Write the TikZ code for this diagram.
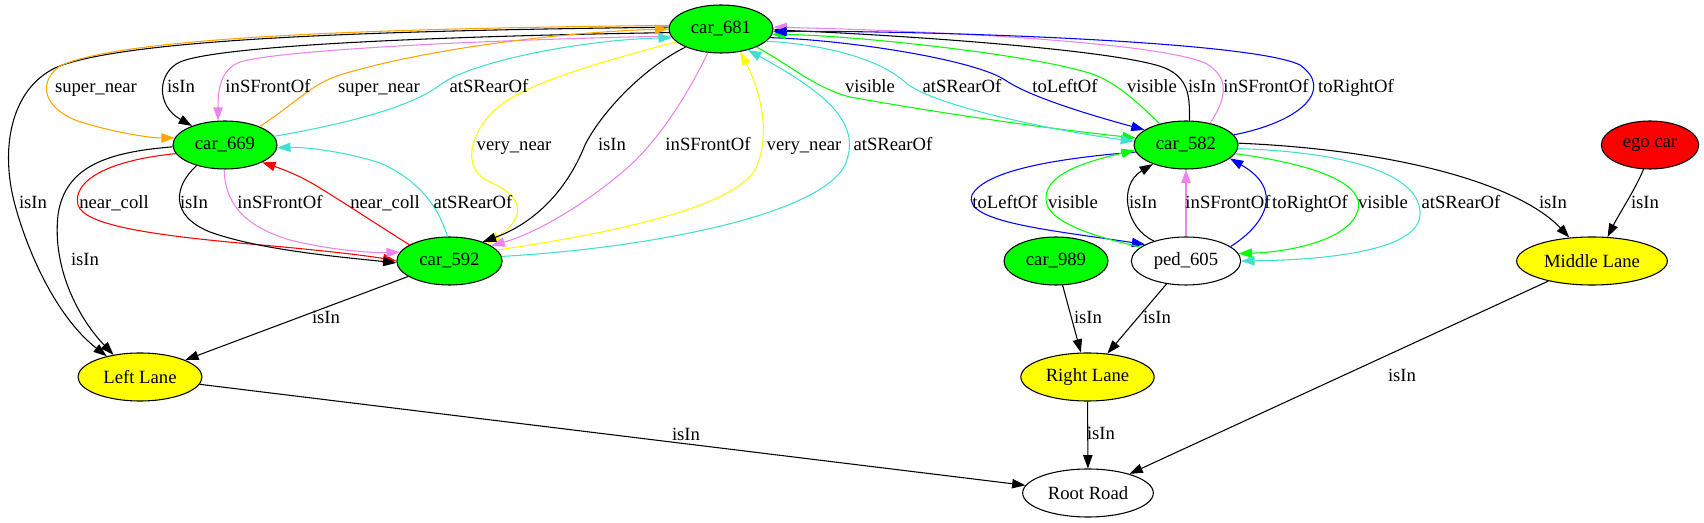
\documentclass[tikz,border=0pt]{standalone}
\usepackage{fontspec}
\setmainfont{Liberation Serif}
\usepackage{tikz}
\usetikzlibrary{arrows.meta, shapes.geometric}
\definecolor{carfill}{HTML}{00FF00}
\definecolor{lanefill}{HTML}{FFFF00}
\definecolor{egofill}{HTML}{FF0000}
\definecolor{orng}{HTML}{FFA500}
\definecolor{viol}{HTML}{EE82EE}
\definecolor{turq}{HTML}{40E0D0}
\definecolor{grn}{HTML}{00FF00}
\definecolor{blu}{HTML}{0000FF}
\definecolor{rd}{HTML}{FF0000}
\definecolor{ylw}{HTML}{FFFF00}

\begin{document}
\begin{tikzpicture}[x=0.75pt, y=-0.75pt,
    obj/.style={ellipse, draw, line width=0.8pt, minimum height=36pt, inner sep=0pt, font=\fontsize{14}{16}\selectfont},
    rel/.style={-{Triangle[length=10pt,width=7pt]}, line width=0.8pt},
    lbl/.style={font=\fontsize{14}{16}\selectfont, inner sep=0pt, anchor=base}]
    \useasboundingbox (0,0) rectangle (1704,523);
    % objects
    \node[obj, fill=carfill, minimum width=78pt] (c681) at (721,29) {car\_681};
    \node[obj, fill=carfill, minimum width=78pt] (c669) at (225,145) {car\_669};
    \node[obj, fill=carfill, minimum width=79pt] (c592) at (449.5,261) {car\_592};
    \node[obj, fill=lanefill, minimum width=93pt] (left) at (140,377) {Left Lane};
    \node[obj, fill=carfill, minimum width=78pt] (c582) at (1186,145) {car\_582};
    \node[obj, minimum width=82pt] (ped) at (1186,261) {ped\_605};
    \node[obj, fill=carfill, minimum width=78pt] (c989) at (1056,261) {car\_989};
    \node[obj, fill=lanefill, minimum width=100pt] (right) at (1087.5,377) {Right Lane};
    \node[obj, minimum width=98pt] (root) at (1088,493) {Root Road};
    \node[obj, fill=lanefill, minimum width=113pt] (mid) at (1592,261) {Middle Lane};
    \node[obj, fill=egofill, minimum width=73pt] (ego) at (1650,145) {ego car};

    % car_681 <-> car_669 and Left Lane
    \draw[rel] (c681.178) .. controls (450,30) and (130,35) .. (55,68) .. controls (10,90) and (0,150) .. (15,205) .. controls (30,260) and (60,320) .. (left.148);
    \draw[rel, orng] (c681.176) .. controls (450,28) and (130,33) .. (60,66) .. controls (40,80) and (40,105) .. (75,120) .. controls (110,132) and (150,138) .. (c669.172);
    \draw[rel] (c681.184) .. controls (450,36) and (220,45) .. (180,62) .. controls (158,72) and (155,105) .. (c669.150);
    \draw[rel, viol] (c681.188) .. controls (480,40) and (280,50) .. (240,62) .. controls (220,70) and (218,90) .. (c669.106);
    \draw[rel, orng] (c669.28) .. controls (300,100) and (310,85) .. (340,75) .. controls (420,50) and (560,32) .. (c681.180);
    \draw[rel, turq] (c669.10) .. controls (340,125) and (410,108) .. (440,85) .. controls (470,62) and (580,40) .. (c681.190);

    % car_681 <-> car_592
    \draw[rel, ylw] (c681.196) .. controls (600,62) and (520,85) .. (495,110) .. controls (468,135) and (462,170) .. (490,182) .. controls (520,195) and (530,215) .. (c592.25);
    \draw[rel] (c681.207) .. controls (640,70) and (600,115) .. (585,145) .. controls (565,195) and (530,225) .. (c592.30);
    \draw[rel, viol] (c681.241) .. controls (690,90) and (660,140) .. (625,170) .. controls (590,200) and (540,232) .. (c592.20);
    \draw[rel, ylw] (c592.13) .. controls (600,235) and (730,210) .. (755,170) .. controls (772,135) and (760,90) .. (c681.310);
    \draw[rel, turq] (c592.5) .. controls (650,248) and (820,215) .. (845,165) .. controls (862,125) and (830,95) .. (c681.322);

    % car_669 <-> car_592
    \draw[rel] (c669.182) .. controls (110,152) and (65,165) .. (58,215) .. controls (52,270) and (80,320) .. (left.140);
    \draw[rel, rd] (c669.190) .. controls (110,160) and (72,180) .. (78,205) .. controls (84,225) and (150,235) .. (250,244) .. controls (320,250) and (370,256) .. (c592.180);
    \draw[rel] (c669.216) .. controls (175,185) and (168,215) .. (210,232) .. controls (260,250) and (340,257) .. (c592.182);
    \draw[rel, viol] (c669.268) .. controls (225,200) and (240,225) .. (290,240) .. controls (330,250) and (370,253) .. (c592.170);
    \draw[rel, rd] (c592.158) .. controls (370,220) and (340,200) .. (315,185) .. controls (300,176) and (285,170) .. (c669.335);
    \draw[rel, turq] (c592.95) .. controls (440,210) and (420,180) .. (380,163) .. controls (340,150) and (300,147) .. (c669.357);
    \draw[rel] (c592) -- (left);
    \draw[rel] (left) -- (root);

    % car_681 <-> car_582
    \draw[rel, grn] (c681.333) .. controls (790,65) and (815,88) .. (850,97) .. controls (950,115) and (1060,130) .. (c582.172);
    \draw[rel, turq] (c681.345) .. controls (830,45) and (880,60) .. (905,82) .. controls (930,105) and (1050,130) .. (c582.176);
    \draw[rel, blu] (c681.350) .. controls (850,40) and (975,60) .. (1005,80) .. controls (1030,97) and (1090,115) .. (c582.160);
    \draw[rel, grn] (c582.141) .. controls (1140,105) and (1120,85) .. (1095,75) .. controls (1040,55) and (850,35) .. (c681.354);
    \draw[rel] (c582.82) .. controls (1190,95) and (1188,78) .. (1165,68) .. controls (1120,50) and (900,35) .. (c681.359);
    \draw[rel, viol] (c582.42) .. controls (1225,100) and (1232,78) .. (1205,63) .. controls (1150,40) and (900,30) .. (c681.2);
    \draw[rel, blu] (c582.12) .. controls (1300,122) and (1335,90) .. (1300,65) .. controls (1250,40) and (900,30) .. (c681.357);

    % car_582 <-> ped_605
    \draw[rel, blu] (c582.188) .. controls (1060,158) and (985,170) .. (972,195) .. controls (962,222) and (1050,230) .. (ped.158);
    \draw[rel, grn] (ped.163) .. controls (1100,238) and (1055,225) .. (1047,205) .. controls (1040,180) and (1070,165) .. (c582.186);
    \draw[rel] (ped.148) .. controls (1125,228) and (1118,185) .. (c582.210);
    \draw[rel, viol] (ped) -- (c582);
    \draw[rel, blu] (ped.18) .. controls (1265,225) and (1285,190) .. (c582.343);
    \draw[rel, grn] (c582.350) .. controls (1320,165) and (1365,185) .. (1358,210) .. controls (1350,240) and (1290,252) .. (ped.8);
    \draw[rel, turq] (c582.356) .. controls (1350,152) and (1422,175) .. (1420,215) .. controls (1418,252) and (1320,260) .. (ped.0);

    % lanes
    \draw[rel] (c582.2) .. controls (1400,150) and (1520,185) .. (mid.134);
    \draw[rel] (ego.255) .. controls (1635,190) and (1620,212) .. (mid.57);
    \draw[rel] (mid) -- (root);
    \draw[rel] (c989) -- (right);
    \draw[rel] (ped) -- (right);
    \draw[rel] (right) -- (root);

    % edge labels
    \foreach \lx/\ly/\lt [count=\i] in {96/93/super\_near, 181/93/isIn, 268/93/inSFrontOf, 379/93/super\_near,
        489/93/atSRearOf, 514/151/very\_near, 612/151/isIn, 708/151/inSFrontOf, 804/151/very\_near,
        893/151/atSRearOf, 870/93/visible, 962/93/atSRearOf, 1065/93/toLeftOf, 1152/93/visible,
        1202/93/isIn, 1266/93/inSFrontOf, 1356/93/toRightOf, 33/209/isIn, 114/209/near\_coll,
        194/209/isIn, 280/209/inSFrontOf, 385/209/near\_coll, 473/209/atSRearOf, 85/266/isIn,
        326/324/isIn, 1005/209/toLeftOf, 1073/209/visible, 1143/209/isIn, 1228/209/inSFrontOf,
        1310/209/toRightOf, 1383/209/visible, 1461/209/atSRearOf, 1553/209/isIn, 1645/209/isIn,
        1088/324/isIn, 1157/324/isIn, 1101/440/isIn, 686/441/isIn, 1402/382/isIn}
        \node[lbl] (lab\i) at (\lx,\ly) {\lt};
\end{tikzpicture}
\end{document}
